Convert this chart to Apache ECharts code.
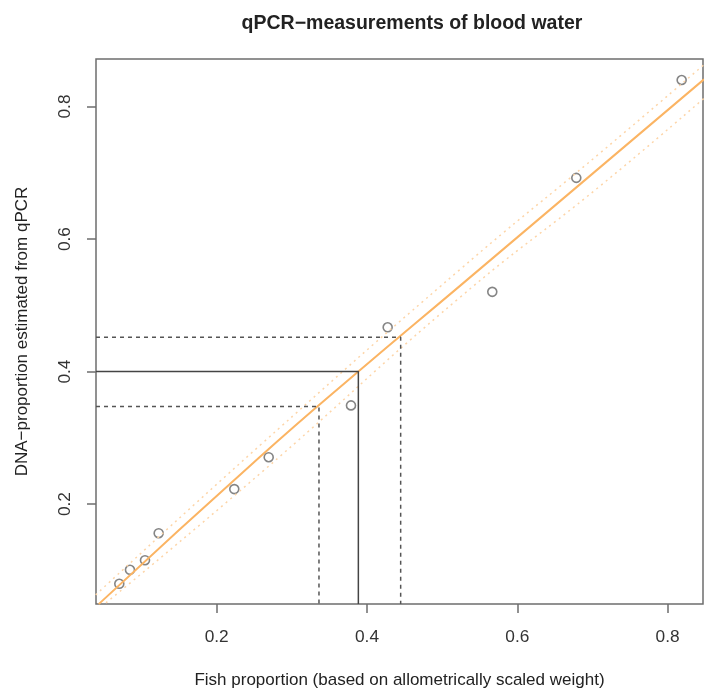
<!DOCTYPE html>
<html>
<head>
<meta charset="utf-8">
<title>qPCR-measurements of blood water</title>
<script src="https://cdn.jsdelivr.net/npm/echarts@6/dist/echarts.min.js"></script>
<style>
  html, body { margin: 0; padding: 0; background: #fff; }
  #main { width: 705px; height: 694px; }
</style>
</head>
<body>
<div id="main"></div>
<script>
// measured points
var fishProp = [0.0704, 0.0846, 0.1046, 0.1228, 0.2234, 0.2692, 0.3787, 0.4275, 0.5667, 0.6785, 0.8187];
var dnaProp  = [0.0797, 0.1008, 0.1153, 0.1560, 0.2226, 0.2707, 0.3489, 0.4668, 0.5203, 0.6923, 0.8400];

// fitted line and its band
var fitLine   = [[0.043, 0.049], [0.2577, 0.2713], [0.3885, 0.400], [0.5237, 0.5293], [0.8484, 0.841]];
var bandUpper = [[0.039, 0.063], [0.2577, 0.2887], [0.5237, 0.554], [0.7101, 0.7298], [0.848, 0.8627]];
var bandLower = [[0.0527, 0.051], [0.2577, 0.246], [0.5237, 0.512], [0.7101, 0.680], [0.848, 0.812]];

// inverse prediction at y = 0.4 and its interval
var targetY = 0.4, estX = 0.3885;
var ciLowX = 0.3361, ciLowY = 0.3474;
var ciHighX = 0.4448, ciHighY = 0.4517;

var xTicks = [0.2, 0.4, 0.6, 0.8];
var yTicks = [0.2, 0.4, 0.6, 0.8];
var xMin = 0.0394, xMax = 0.8471;
var yMin = 0.0492, yMax = 0.8717;

var points = [];
for (var i = 0; i < fishProp.length; i++) {
    points.push([fishProp[i], dnaProp[i]]);
}

var myChart = echarts.init(document.getElementById('main'));
var font = 'Liberation Sans, Arial, sans-serif';

var option = {
    animation: false,
    backgroundColor: '#fff',
    title: {
        text: 'qPCR\u2212measurements of blood water',
        left: 407,
        textAlign: 'center',
        top: 9,
        textStyle: { fontFamily: font, fontSize: 19.5, fontWeight: 'bold', color: '#222' }
    },
    grid: {
        left: 96, right: 2, top: 59, bottom: 88,
        show: true, borderColor: '#6e6e6e', borderWidth: 1.5, backgroundColor: 'transparent'
    },
    xAxis: {
        type: 'value', min: xMin, max: xMax,
        name: 'Fish proportion (based on allometrically scaled weight)',
        nameLocation: 'middle', nameGap: 68,
        nameTextStyle: { fontFamily: font, fontSize: 17, color: '#222' },
        axisLine: { show: false },
        splitLine: { show: false },
        axisTick: { show: true, inside: false, length: 9, customValues: xTicks, lineStyle: { color: '#6e6e6e', width: 1.5 } },
        axisLabel: {
            customValues: xTicks, margin: 25,
            fontFamily: font, fontSize: 17.3, color: '#333',
            formatter: function (v) { return v.toFixed(1); }
        }
    },
    yAxis: {
        type: 'value', min: yMin, max: yMax,
        name: 'DNA\u2212proportion estimated from qPCR',
        nameLocation: 'middle', nameGap: 65,
        nameTextStyle: { fontFamily: font, fontSize: 17, color: '#222' },
        axisLine: { show: false },
        splitLine: { show: false },
        axisTick: { show: true, inside: false, length: 9, customValues: yTicks, lineStyle: { color: '#6e6e6e', width: 1.5 } },
        axisLabel: {
            customValues: yTicks, margin: 22, rotate: 90,
            fontFamily: font, fontSize: 17.3, color: '#333',
            formatter: function (v) { return v.toFixed(1); }
        }
    },
    series: [
        {
            type: 'line', data: bandUpper, smooth: true, symbol: 'none', silent: true,
            lineStyle: { color: '#fdd5a8', width: 1.5, type: [2, 4] }
        },
        {
            type: 'line', data: bandLower, smooth: true, symbol: 'none', silent: true,
            lineStyle: { color: '#fdd5a8', width: 1.5, type: [2, 4] }
        },
        {
            type: 'line', data: fitLine, smooth: true, symbol: 'none', silent: true,
            lineStyle: { color: '#fbb463', width: 2 }
        },
        {
            type: 'line', symbol: 'none', silent: true,
            data: [[xMin, targetY], [estX, targetY], [estX, yMin]],
            lineStyle: { color: '#444', width: 1.5 }
        },
        {
            type: 'line', symbol: 'none', silent: true,
            data: [[xMin, ciHighY], [ciHighX, ciHighY], [ciHighX, yMin]],
            lineStyle: { color: '#555', width: 1.5, type: [4, 4] }
        },
        {
            type: 'line', symbol: 'none', silent: true,
            data: [[xMin, ciLowY], [ciLowX, ciLowY], [ciLowX, yMin]],
            lineStyle: { color: '#555', width: 1.5, type: [4, 4] }
        },
        {
            type: 'scatter', data: points, symbol: 'circle', symbolSize: 9,
            itemStyle: { color: 'rgba(255,255,255,0)', borderColor: '#666', borderWidth: 1.6 }
        }
    ]
};
myChart.setOption(option);
</script>
</body>
</html>
